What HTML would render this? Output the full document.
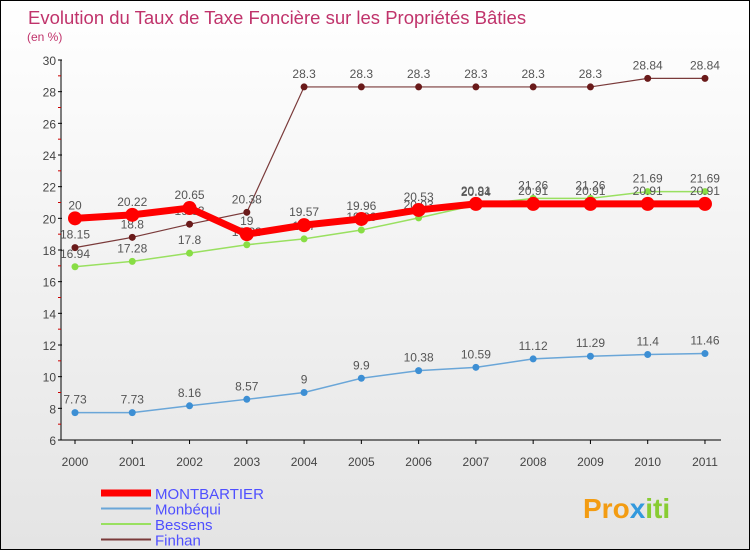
<!DOCTYPE html>
<html><head><meta charset="utf-8"><style>
body{margin:0}
#c{width:748px;height:548px;border:1px solid #000;background:linear-gradient(#fff,#e4e4e4);position:relative;font-family:"Liberation Sans",sans-serif}
</style></head><body>
<div id="c">
<svg id="s" width="748" height="548" style="position:absolute;left:0;top:0" font-family="Liberation Sans, sans-serif">
<text x="27" y="23" font-size="18.5" fill="#c0336b">Evolution du Taux de Taxe Foncière sur les Propriétés Bâties</text>
<text x="26" y="40" font-size="12" fill="#c0336b">(en %)</text>
<g id="axes"></g><g id="series"></g><g id="legend"></g>
<text x="582" y="517" font-size="28" font-weight="bold" fill="#f39c12">Pro<tspan fill="#3399dd">x</tspan><tspan fill="#88cc33">iti</tspan></text>
</svg>
</div>
<script>
const years=[2000,2001,2002,2003,2004,2005,2006,2007,2008,2009,2010,2011];
const yTicks=[6,8,10,12,14,16,18,20,22,24,26,28,30];
const montbartier=[20,20.22,20.65,19,19.57,19.96,20.53,20.91,20.91,20.91,20.91,20.91];
const monbequi=[7.73,7.73,8.16,8.57,9,9.9,10.38,10.59,11.12,11.29,11.4,11.46];
const bessens=[16.94,17.28,17.8,18.33,18.7,19.26,20.03,20.84,21.26,21.26,21.69,21.69];
const finhan=[18.15,18.8,19.63,20.38,28.3,28.3,28.3,28.3,28.3,28.3,28.84,28.84];
const NS="http://www.w3.org/2000/svg";
const X=i=>74+i*57.27, Y=v=>439-(v-6)*(380/24);
function mk(t,a,p){const e=document.createElementNS(NS,t);for(const k in a)e.setAttribute(k,a[k]);p.appendChild(e);return e;}
const ax=document.getElementById('axes');
const yl=mk('line',{x1:60,y1:Y(30),x2:60,y2:Y(6),stroke:'#000'},ax);


const xl=mk('line',{x1:60,y1:Y(6),x2:720,y2:Y(6),stroke:'#000'},ax);


yTicks.forEach(v=>{mk('line',{x1:57,x2:61,y1:Y(v),y2:Y(v),stroke:'#000'},ax);
 if(v<30)mk('line',{x1:57,x2:60,y1:Y(v+1),y2:Y(v+1),stroke:'#c00'},ax);
 const t=mk('text',{x:55,y:Y(v)+5,'text-anchor':'end','font-size':12,fill:'#444'},ax);t.textContent=v;
 
 });
years.forEach((y,i)=>{mk('line',{x1:X(i),x2:X(i),y1:Y(6),y2:Y(6)+4,stroke:'#000'},ax);
 const t=mk('text',{x:X(i),y:465,'text-anchor':'middle','font-size':12,fill:'#444'},ax);t.textContent=y;
 
 });
const sg=document.getElementById('series');
function draw(d,col,w,r,dot,name,stroke){
 const g=mk('g',{},sg);
 
 
 mk('polyline',{points:d.map((v,i)=>X(i)+','+Y(v)).join(' '),fill:'none',stroke:col,'stroke-width':w},g);
 d.forEach((v,i)=>{const c=mk('circle',{cx:X(i),cy:Y(v),r:r,fill:dot,stroke:stroke,'stroke-width':1},g);
  
  
  const t=mk('text',{x:X(i),y:Y(v)-9,'text-anchor':'middle','font-size':12,fill:'#555'},g);t.textContent=v;});
}
draw(monbequi,'#6aa6d8',1.5,3.5,'#3d8fd4','#1f5f99','series-monbequi');
draw(bessens,'#99e060',1.5,3.5,'#88dd44','#4a9a1a','series-bessens');
draw(finhan,'#7a3a3a',1.2,3.5,'#6a1a1a','#3a0a0a','series-finhan');
draw(montbartier,'#ff0000',7,7,'#ff0000','#ff0000','series-montbartier');
const lg=document.getElementById('legend');
[['MONTBARTIER','#ff0000',7],['Monbéqui','#6aa6d8',2],['Bessens','#99e060',2],['Finhan','#7a3a3a',2]].forEach((e,i)=>{
 const g=mk('g',{},lg);
 
 
 const y=492+i*15.5;
 mk('line',{x1:100,x2:150,y1:y,y2:y,stroke:e[1],'stroke-width':e[2]},g);
 const t=mk('text',{x:154,y:y+6,'font-size':15,fill:'#4f4fff'},g);t.textContent=e[0];});
</script>
</body></html>
